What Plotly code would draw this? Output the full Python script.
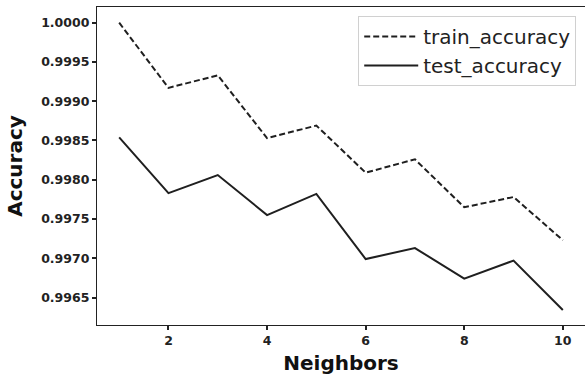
import plotly.graph_objects as go

neighbors = [1, 2, 3, 4, 5, 6, 7, 8, 9, 10]
train_accuracy = [1.0000, 0.99917, 0.99933, 0.99853, 0.99869, 0.99809, 0.99826, 0.99765, 0.99778, 0.99723]
test_accuracy = [0.99854, 0.99783, 0.99806, 0.99755, 0.99782, 0.99699, 0.99713, 0.99674, 0.99697, 0.99634]
x_ticks = [2, 4, 6, 8, 10]
y_ticks = [0.9965, 0.9970, 0.9975, 0.9980, 0.9985, 0.9990, 0.9995, 1.0000]

fig = go.Figure()
fig.add_trace(go.Scatter(x=neighbors, y=train_accuracy, mode="lines", name="train_accuracy",
                         line=dict(color="#1f1f1f", width=2, dash="6px,3px")))
fig.add_trace(go.Scatter(x=neighbors, y=test_accuracy, mode="lines", name="test_accuracy",
                         line=dict(color="#1f1f1f", width=2)))

tickfont = dict(family="DejaVu Sans", size=12.5, color="#222222", weight="bold")
titlefont = dict(family="DejaVu Sans", size=20, color="#111111", weight="bold")
fig.update_layout(
    width=585, height=376,
    margin=dict(l=97, r=0, t=7, b=51),
    paper_bgcolor="white", plot_bgcolor="white",
    showlegend=True,
    legend=dict(x=0.982, y=0.972, xanchor="right", yanchor="top",
                bordercolor="#d0d0d0", borderwidth=1, bgcolor="rgba(255,255,255,0.8)",
                font=dict(family="DejaVu Sans", size=20, color="#222222"),
                tracegroupgap=0, itemwidth=54),
    xaxis=dict(range=[0.55, 10.45], tickvals=x_ticks, ticktext=[str(v) for v in x_ticks],
               automargin=False,
               showgrid=False, zeroline=False, showline=True, linecolor="#222222", linewidth=1.2,
               mirror=True, ticks="outside", ticklen=4, tickwidth=2, tickcolor="#222222",
               tickfont=tickfont,
               title=dict(text="Neighbors", font=titlefont, standoff=8)),
    yaxis=dict(range=[0.99615, 1.0002], tickvals=y_ticks, ticktext=[f"{v:.4f}" for v in y_ticks],
               automargin=False,
               showgrid=False, zeroline=False, showline=True, linecolor="#222222", linewidth=1.2,
               mirror=True, ticks="outside", ticklen=4, tickwidth=2, tickcolor="#222222",
               tickfont=tickfont,
               title=dict(text="Accuracy", font=titlefont, standoff=13)),
)

fig.write_html("out.html", config={"displayModeBar": False},
               post_script="document.body.style.margin='0';")
